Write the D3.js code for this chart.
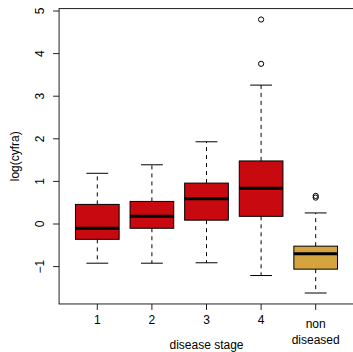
<!DOCTYPE html>
<html>
<head>
<meta charset="utf-8">
<script src="https://cdn.jsdelivr.net/npm/d3@7"></script>
<style>
  body { margin: 0; background: #fff; }
  text { font-family: "Liberation Sans", Arial, sans-serif; font-size: 12px; fill: #000; }
</style>
</head>
<body>
<svg width="353" height="352"></svg>
<script>
// box stats (log scale)
var stages = ["1", "2", "3", "4", "non\ndiseased"];
var lowWhisk = [-0.92, -0.92, -0.91, -1.21, -1.62];
var q1 = [-0.36, -0.10, 0.09, 0.18, -1.06];
var medians = [-0.10, 0.18, 0.59, 0.84, -0.70];
var q3 = [0.46, 0.53, 0.96, 1.48, -0.52];
var highWhisk = [1.19, 1.39, 1.93, 3.26, 0.26];
var outliers = [[], [], [], [4.80, 3.76], [0.66, 0.62]];
var fills = ["#c80a10", "#c80a10", "#c80a10", "#c80a10", "#d5a43f"];
var yTicks = [-1, 0, 1, 2, 3, 4, 5];

var svg = d3.select("svg");

var x = d3.scaleLinear().domain([1, 5]).range([97.3, 315.7]);
var y = d3.scaleLinear().domain([0, 5]).range([224, 11]);

var pLeft = x(0.3), pRight = x(5.7), pTop = y(5.057), pBottom = y(-1.877);

var boxes = stages.map(function(s, i) {
    return {name: s, i: i + 1, lo: lowWhisk[i], q1: q1[i], med: medians[i], q3: q3[i], hi: highWhisk[i], out: outliers[i], fill: fills[i]};
});

var bw = x(1.4) - x(1);   // half box width
var sw = bw / 2;          // half staple width

var g = svg.append("g");

// whiskers, boxes, medians, outliers
g.selectAll(".bx").data(boxes).enter().append("g").attr("class", "bx").each(function(d) {
    var el = d3.select(this), cx = x(d.i);
    el.append("line").attr("x1", cx).attr("x2", cx).attr("y1", y(d.q3)).attr("y2", y(d.hi))
        .attr("stroke", "#000").attr("stroke-dasharray", "4,4");
    el.append("line").attr("x1", cx).attr("x2", cx).attr("y1", y(d.q1)).attr("y2", y(d.lo))
        .attr("stroke", "#000").attr("stroke-dasharray", "4,4");
    el.append("line").attr("x1", cx - sw).attr("x2", cx + sw).attr("y1", y(d.hi)).attr("y2", y(d.hi))
        .attr("stroke", "#000");
    el.append("line").attr("x1", cx - sw).attr("x2", cx + sw).attr("y1", y(d.lo)).attr("y2", y(d.lo))
        .attr("stroke", "#000");
    el.append("rect").attr("x", cx - bw).attr("width", bw * 2)
        .attr("y", y(d.q3)).attr("height", y(d.q1) - y(d.q3))
        .attr("fill", d.fill).attr("stroke", "#000");
    el.append("line").attr("x1", cx - bw).attr("x2", cx + bw).attr("y1", y(d.med)).attr("y2", y(d.med))
        .attr("stroke", "#000").attr("stroke-width", 3);
    el.selectAll("circle").data(d.out).enter().append("circle")
        .attr("cx", cx).attr("cy", function(v) { return y(v); }).attr("r", 2.6)
        .attr("fill", "none").attr("stroke", "#000");
});

// frame
svg.append("rect").attr("x", pLeft).attr("y", pTop).attr("width", pRight - pLeft).attr("height", pBottom - pTop)
    .attr("fill", "none").attr("stroke", "#222");

// y axis
var ya = svg.append("g");
ya.selectAll("line").data(yTicks).enter().append("line")
    .attr("x1", pLeft).attr("x2", pLeft - 6).attr("y1", function(d) { return y(d); }).attr("y2", function(d) { return y(d); })
    .attr("stroke", "#222");
ya.selectAll("text").data(yTicks).enter().append("text")
    .attr("transform", function(d) { return "translate(44," + y(d) + ") rotate(-90)"; })
    .attr("text-anchor", "middle")
    .text(function(d) { return d < 0 ? "\u2212" + Math.abs(d) : d; });

// x axis
var xa = svg.append("g");
xa.selectAll("line").data(boxes).enter().append("line")
    .attr("x1", function(d) { return x(d.i); }).attr("x2", function(d) { return x(d.i); })
    .attr("y1", pBottom).attr("y2", pBottom + 6).attr("stroke", "#222");
xa.selectAll("text").data(boxes).enter().append("text")
    .attr("text-anchor", "middle")
    .attr("x", function(d) { return x(d.i); })
    .attr("y", function(d) { return d.name.indexOf("\n") >= 0 ? 328 : 324; })
    .each(function(d) {
        var parts = d.name.split("\n");
        var t = d3.select(this);
        parts.forEach(function(p, k) {
            t.append("tspan").attr("x", x(d.i)).attr("dy", k === 0 ? 0 : 15.5).text(p);
        });
    });

svg.append("text").attr("x", x(3)).attr("y", 349).attr("text-anchor", "middle").text("disease stage");
svg.append("text").attr("transform", "translate(19," + (pTop + pBottom) / 2 + ") rotate(-90)")
    .attr("text-anchor", "middle").text("log(cyfra)");
</script>
</body>
</html>
